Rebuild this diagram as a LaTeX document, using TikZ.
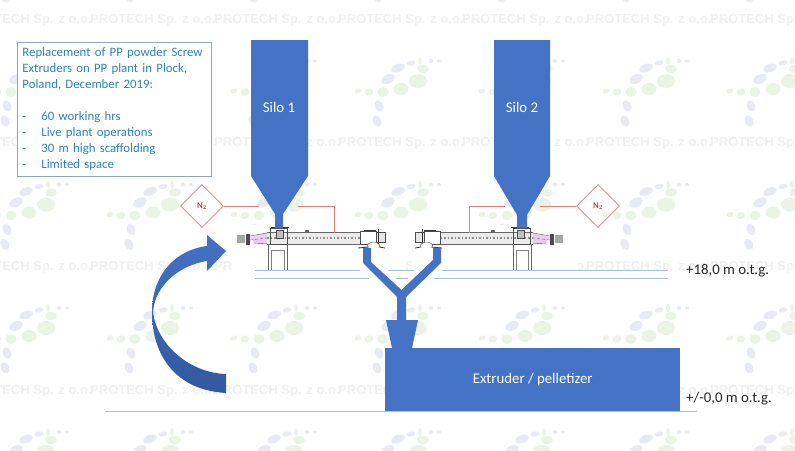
\documentclass[tikz,border=0pt]{standalone}
\usepackage{fontspec}
\setmainfont{Carlito}
\newfontfamily\markfont{Liberation Sans}
\usetikzlibrary{positioning, shapes.geometric}
\definecolor{plantblue}{HTML}{4472C4}
\definecolor{plantdark}{HTML}{31599F}
\definecolor{boxtext}{HTML}{2E84B4}
\definecolor{boxline}{HTML}{8FA6B8}
\definecolor{levelline}{HTML}{A9BFD3}
\definecolor{gasred}{HTML}{E0817F}
\definecolor{marktext}{HTML}{EFF0F2}
\definecolor{marklilac}{HTML}{E8EAF1}
\definecolor{markgreen}{HTML}{EAF3E6}
\tikzset{
  infobox/.style={draw=boxline,fill=white,text=boxtext,thick,align=left,text width=184pt,inner sep=5pt,font=\fontsize{12.8}{16}\selectfont},
  gasvalve/.style={diamond,draw=gasred,thick,minimum width=43pt,minimum height=43pt,inner sep=0pt,text=red!75!black,font=\fontsize{9}{10}\selectfont},
  gasline/.style={gasred,thick},
  levelmark/.style={levelline,thick},
  plantlabel/.style={text=white,font=\fontsize{14.8}{16}\selectfont},
  levellabel/.style={anchor=west,text=black!85,font=\fontsize{14.8}{16}\selectfont},
  watermark/.style={anchor=west,inner sep=0pt,text=marktext,font=\markfont\bfseries\fontsize{13}{14}\selectfont},
  screwline/.style={black!70,thin}
}
\def\screwunit{
\fill[black!35] (237,235) rectangle (245,243);
\fill[black!70] (246,234) rectangle (250,245);
\fill[violet!18] (250,237) -- (267,233) -- (267,244) -- (254,243) -- cycle;
\draw[black!60,thin,densely dashed] (250,240) -- (267,238);
\draw[screwline] (250,236) -- (267,233) (254,243) -- (267,244);
\fill[black!8] (267,232) rectangle (360,244);
\draw[black!60] (267,232) -- (360,232) (267,244) -- (360,244);
\draw[black!45,line width=2pt,dash pattern=on 1.5pt off 2pt] (267,238) -- (360,238);
\fill[black!60] (305,229.5) rectangle (309,232);
\draw[screwline] (270,228) rectangle (287,244);
\draw[black!80,thick] (271,227) -- (289,227);
\draw[screwline,fill=black!25] (276,230) rectangle (283,238);
\draw[screwline,fill=white] (360,231) rectangle (376,244);
\draw[black!80,thick] (364,230) -- (376,230);
\draw[screwline,fill=black!10] (376,232) rectangle (385,242);
\draw[black!80,thick] (378,229) -- (378,246);
\draw[screwline,fill=white] (367,247) arc[start angle=180,end angle=0,x radius=6.5,y radius=-5];
\draw[black!80,thick] (358,248) -- (369,247) (379,247) -- (385,248);
\draw[black!60] (268.5,270) -- (268.5,244) (287,244) -- (287,270);
\draw[black!50,thin] (271.5,270) -- (271.5,250) -- (284,250) -- (284,270);
}
\begin{document}
\begin{tikzpicture}[x=1pt,y=-1pt]
\clip (0,0) rectangle (795,450);
\fill[white] (0,0) rectangle (795,450);
\foreach \tx in {5,129,253,377,501,625,749}
  \foreach \ty in {-56,68,191.5,315,439}
    \foreach \bx/\by/\brx/\bry/\bang/\bcol in {34/-5/4.5/2.5/10/marklilac,21/0/7/4/20/marklilac,11/11/7/4.5/25/marklilac,2/38/4/6/25/marklilac,0/53/4/6/25/marklilac,46/1/6/4/0/markgreen,41/13/9/7/0/markgreen,24/21/7.5/6/0/markgreen,6/24/5.5/5/0/markgreen,-8/24/4.5/3.5/15/markgreen,-19/23/3.5/2.5/20/markgreen,54/-7/2.5/2/0/marklilac,62/-7/2/1.5/0/marklilac,43/-7/2/4/0/markgreen}
      \fill[\bcol] (\tx+\bx,\ty+\by) ellipse[x radius=\brx pt,y radius=\bry pt,rotate=\bang];
\foreach \tx in {-34,90,214,338,462,586,710}
  \foreach \ty in {20,143.5,267,391}
    \node[watermark] (mark-\tx-\ty) at (\tx,\ty) {PROTECH Sp. z o.o.};
\fill[white] (232,225) rectangle (402,285);
\fill[white] (412,225) rectangle (578,285);
\draw[levelmark] (255,270) -- (360,270) (388,270) -- (414,270) (442,270) -- (668,270);
\draw[levelmark] (255,278) -- (369,278) (396,278) -- (408,278) (434,278) -- (668,278);
\draw[levelmark] (105,411) -- (697,411);
\screwunit
\begin{scope}[xshift=800pt,xscale=-1]
\screwunit
\end{scope}
\node[infobox,minimum height=134pt,anchor=north west] (info) at (17,42) {Replacement of PP powder Screw\\Extruders on PP plant in Plock,\\Poland, December 2019:\\[16pt]\makebox[19pt][l]{-}60 working hrs\\\makebox[19pt][l]{-}Live plant operations\\\makebox[19pt][l]{-}30 m high scaffolding\\\makebox[19pt][l]{-}Limited space};
\node[gasvalve] (valveA) at (202,206) {N$_2$};
\node[gasvalve] (valveB) at (598,206) {N$_2$};
\coordinate (gasA1) at (259,206);
\coordinate (gasA2) at (298,206);
\coordinate (gasA3) at (334,233);
\coordinate (gasB1) at (540,206);
\coordinate (gasB2) at (505,206);
\coordinate (gasB3) at (469,233);
\draw[gasline] (valveA.east) -- (gasA1);
\draw[gasline] (gasA2) -| (gasA3);
\draw[gasline] (valveB.west) -- (gasB1);
\draw[gasline] (gasB2) -| (gasB3);
\fill[plantblue] (251,40) -- (308,40) -- (308,176) -- (283,214) -- (283,228) -- (275,228) -- (275,214) -- (251,176) -- cycle;
\fill[plantblue] (494,40) -- (550,40) -- (550,176) -- (527,215) -- (527,228) -- (517,228) -- (517,215) -- (494,176) -- cycle;
\node[plantlabel] (silo1) at (279,107) {Silo 1};
\node[plantlabel] (silo2) at (522,107) {Silo 2};
\fill[plantblue] (363,248) -- (371,248) -- (371,262) -- (401.5,290) -- (433,260) -- (433,248) -- (441,248) -- (441,263) -- (406,297) -- (406,320) -- (418,320) -- (412,348) -- (392,348) -- (386,320) -- (397,320) -- (397,297) -- (363,263) -- cycle;
\node[fill=plantblue,minimum width=295pt,minimum height=63pt,inner sep=0pt,anchor=north west,plantlabel] (extruder) at (385,348) {Extruder / pelletizer};
\shade[top color=plantblue,bottom color=plantdark] (226,393) .. controls (175,390) and (152,355) .. (152,312) .. controls (152,275) and (175,250) .. (207,246) -- (207,235) -- (226,251) -- (207,271) -- (207,261) .. controls (180,265) and (155,285) .. (153,312) .. controls (157,345) and (190,373) .. (226,374) -- cycle;
\node[levellabel,inner sep=0pt] (levelA) at (686,271) {+18,0 m o.t.g.};
\node[levellabel,inner sep=0pt] (levelB) at (686,399) {+/-0,0 m o.t.g.};
\end{tikzpicture}
\end{document}
